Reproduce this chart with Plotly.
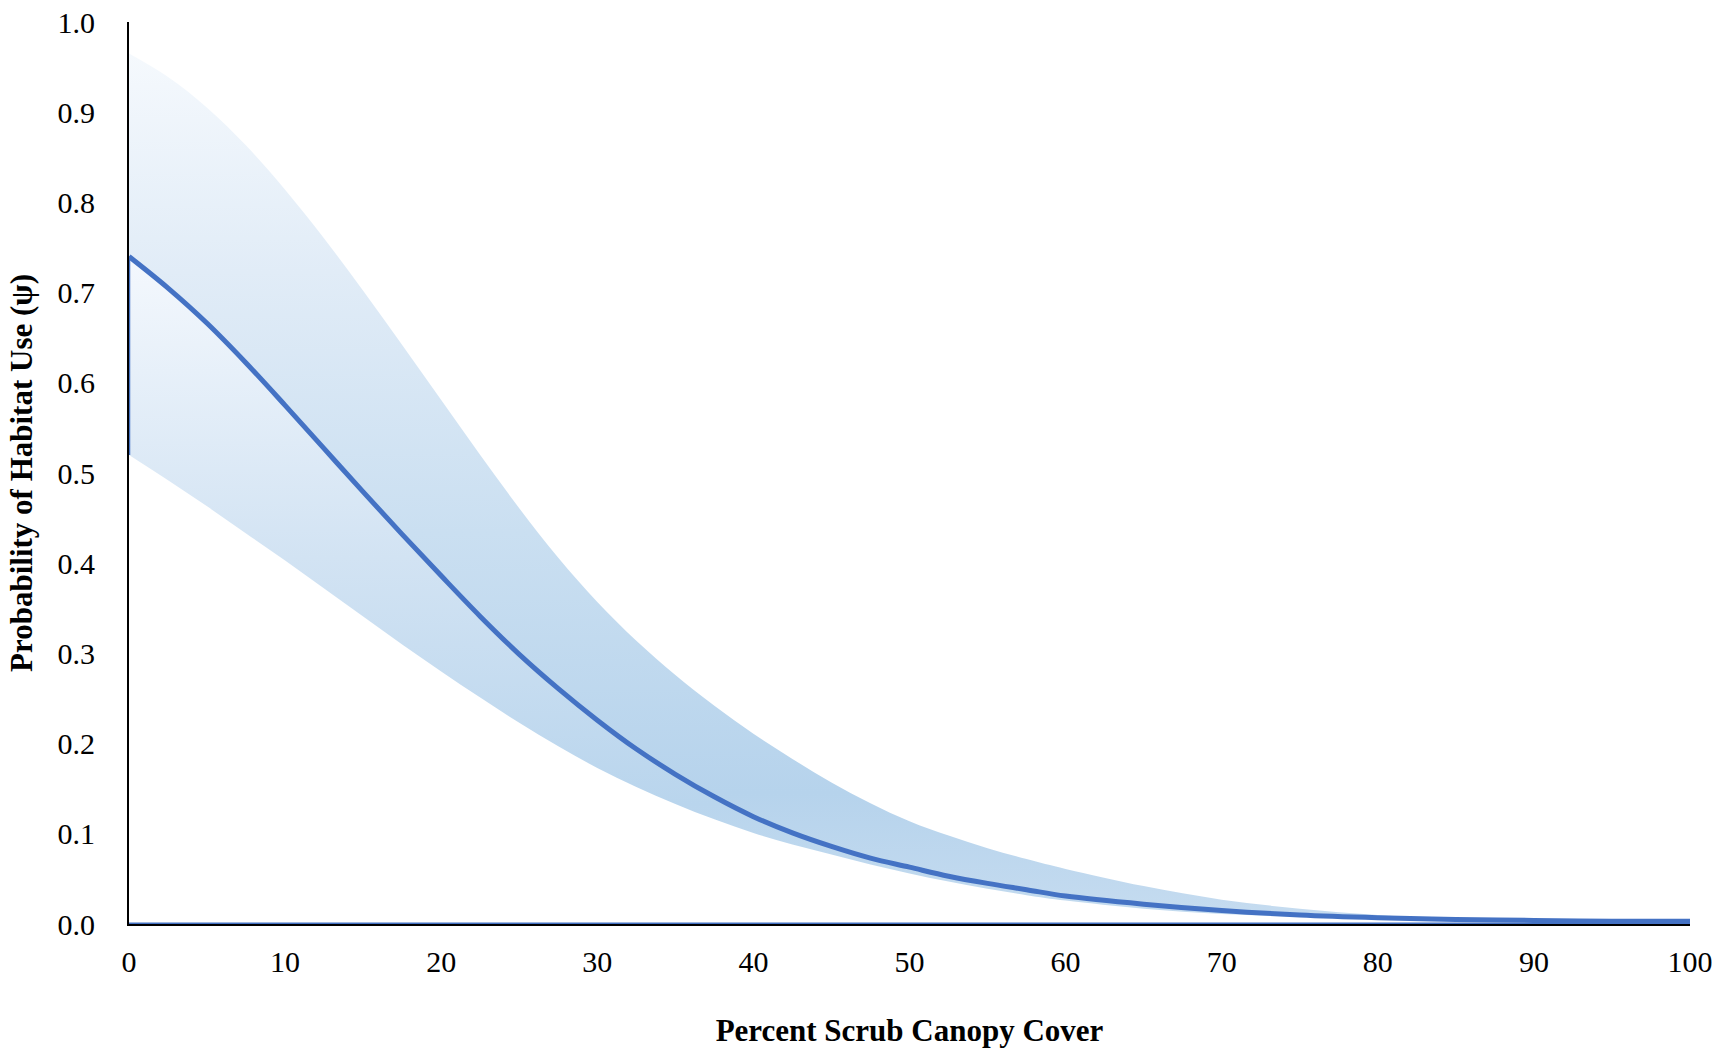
import plotly.graph_objects as go

# Percent scrub canopy cover
canopy = [0, 2.5, 5, 7.5, 10, 12.5, 15, 17.5, 20, 22.5, 25, 27.5, 30, 32.5, 35, 37.5, 40,
          42.5, 45, 47.5, 50, 52.5, 55, 57.5, 60, 65, 70, 75, 80, 85, 90, 95, 100]
# Mean probability of habitat use
psi_mean = [0.740, 0.705, 0.666, 0.622, 0.575, 0.527, 0.479, 0.432, 0.386, 0.341, 0.299,
            0.261, 0.226, 0.194, 0.166, 0.141, 0.119, 0.101, 0.086, 0.073, 0.063,
            0.053, 0.045, 0.038, 0.031, 0.022, 0.015, 0.010, 0.007, 0.005, 0.004, 0.003, 0.003]
# Upper confidence bound
psi_upper = [0.965, 0.939, 0.905, 0.863, 0.814, 0.760, 0.702, 0.642, 0.581, 0.520, 0.461,
             0.406, 0.357, 0.314, 0.276, 0.242, 0.211, 0.183, 0.157, 0.134, 0.114,
             0.098, 0.084, 0.072, 0.061, 0.042, 0.027, 0.017, 0.010, 0.006, 0.004, 0.003, 0.002]
# Lower confidence bound
psi_lower = [0.520, 0.492, 0.463, 0.433, 0.403, 0.372, 0.341, 0.310, 0.280, 0.251, 0.223,
             0.197, 0.173, 0.152, 0.133, 0.116, 0.101, 0.088, 0.077, 0.066, 0.056,
             0.047, 0.039, 0.032, 0.026, 0.017, 0.011, 0.008, 0.005, 0.004, 0.003, 0.002, 0.002]

x_ticks = [0, 10, 20, 30, 40, 50, 60, 70, 80, 90, 100]
y_ticks = [0.0, 0.1, 0.2, 0.3, 0.4, 0.5, 0.6, 0.7, 0.8, 0.9, 1.0]

LINE = "#4472C4"
SERIF = "Liberation Serif, Times New Roman, serif"
SPL = dict(shape="spline", smoothing=1.0)

fig = go.Figure()

# lower bound (invisible base)
fig.add_trace(go.Scatter(x=canopy, y=psi_lower, mode="lines", line=dict(width=0, **SPL),
                         hoverinfo="skip", showlegend=False))
# region lower -> mean
fig.add_trace(go.Scatter(
    x=canopy, y=psi_mean, mode="lines", line=dict(width=0, **SPL), fill="tonexty",
    fillgradient=dict(type="vertical", start=0, stop=max(psi_mean),
                      colorscale=[[0, "#c4dbef"], [0.18, "#b9d5ed"], [0.55, "#d2e3f3"],
                                  [1, "#f4f8fd"]]),
    hoverinfo="skip", showlegend=False))
# region mean -> upper
fig.add_trace(go.Scatter(
    x=canopy, y=psi_upper, mode="lines", line=dict(width=0, **SPL), fill="tonexty",
    fillgradient=dict(type="vertical", start=0, stop=max(psi_upper),
                      colorscale=[[0, "#c6dcf0"], [0.15, "#b6d3ec"], [0.45, "#cadff1"],
                                  [0.75, "#e1ecf7"], [1, "#f5f9fd"]]),
    hoverinfo="skip", showlegend=False))

# baseline along zero (blue under the axis)
fig.add_trace(go.Scatter(x=canopy, y=[0] * len(canopy), mode="lines",
                         line=dict(color=LINE, width=3), hoverinfo="skip", showlegend=False))
# vertical segment at x=0 from lower to mean
fig.add_trace(go.Scatter(x=[canopy[0], canopy[0]], y=[psi_lower[0], psi_mean[0]], mode="lines",
                         line=dict(color=LINE, width=2.5), hoverinfo="skip", showlegend=False))
# mean line
fig.add_trace(go.Scatter(x=canopy, y=psi_mean, mode="lines",
                         line=dict(color=LINE, width=5, **SPL),
                         showlegend=False))

fig.update_layout(
    width=1732, height=1048,
    margin=dict(l=129, r=42, t=22, b=124),
    paper_bgcolor="white", plot_bgcolor="white",
    font=dict(family=SERIF, size=30, color="black"),
    showlegend=False,
)
fig.update_xaxes(
    range=[0, 100], tickvals=x_ticks, ticktext=[str(v) for v in x_ticks],
    showgrid=False, zeroline=False, showline=True, linecolor="black", linewidth=2,
    ticks="", ticklabelstandoff=10, automargin=False,
    title=dict(text="<b>Percent Scrub Canopy Cover</b>", font=dict(family=SERIF, size=31),
               standoff=48),
)
fig.update_yaxes(
    range=[0, 1.0], tickvals=y_ticks, ticktext=[f"{v:.1f}" for v in y_ticks],
    showgrid=False, zeroline=False, showline=True, linecolor="black", linewidth=2,
    ticks="", ticklabelstandoff=26, automargin=False,
    title=dict(text="<b>Probability of Habitat Use (ψ)</b>", font=dict(family=SERIF, size=31),
               standoff=16),
)

fig.write_html("out.html")
